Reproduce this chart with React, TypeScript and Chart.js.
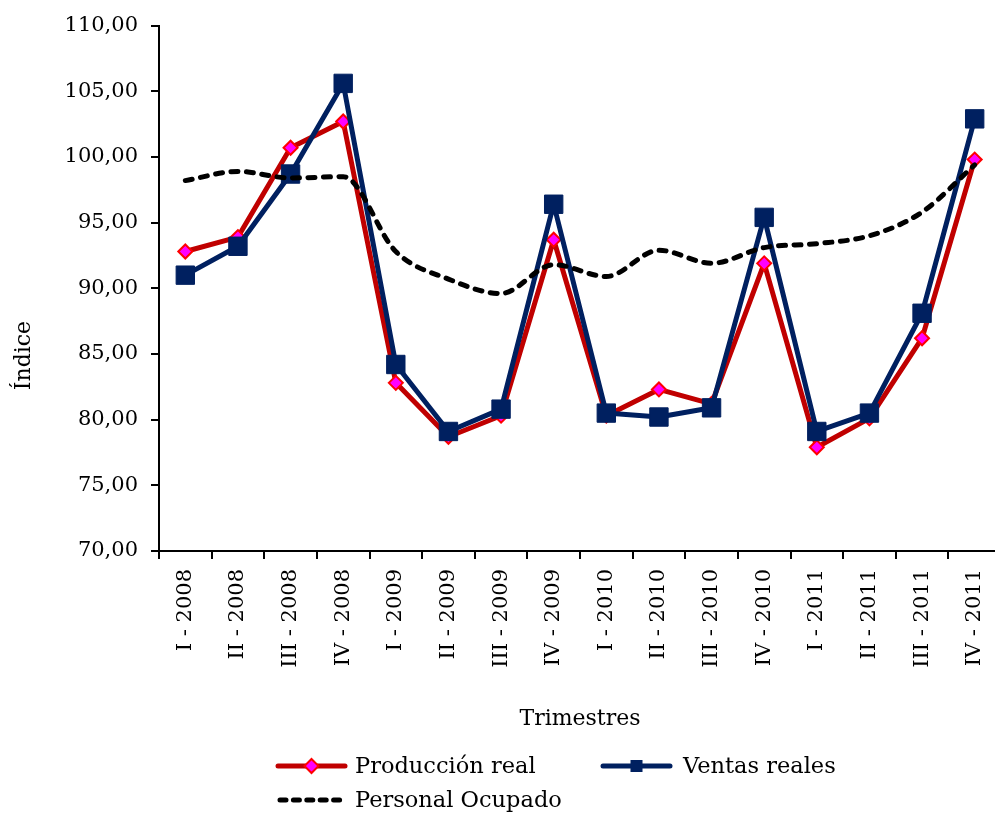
import React, { useEffect, useRef } from "react";
import { Chart, registerables } from "chart.js";

Chart.register(...registerables);

const categories = [
  "I - 2008", "II - 2008", "III - 2008", "IV - 2008",
  "I - 2009", "II - 2009", "III - 2009", "IV - 2009",
  "I - 2010", "II - 2010", "III - 2010", "IV - 2010",
  "I - 2011", "II - 2011", "III - 2011", "IV - 2011",
];

const produccionReal = [92.8, 93.9, 100.7, 102.7, 82.8, 78.7, 80.3, 93.7, 80.3, 82.3, 81.2, 91.9, 77.9, 80.1, 86.2, 99.8];
const ventasReales = [91.0, 93.2, 98.7, 105.6, 84.2, 79.1, 80.8, 96.4, 80.5, 80.2, 80.9, 95.4, 79.1, 80.5, 88.1, 102.9];
const personalOcupado = [98.2, 98.9, 98.4, 98.5, 92.8, 90.7, 89.6, 91.8, 90.9, 92.9, 91.9, 93.1, 93.4, 94.0, 95.8, 99.4];

const seriesNames = ["Producción real", "Ventas reales", "Personal Ocupado"];
const yMin = 70;
const yMax = 110;
const yStep = 5;
const xTitle = "Trimestres";
const yTitle = "Índice";

const FONT = "'DejaVu Serif', serif";
const FS = 21;
const FS_TITLE = 22;
const FS_LEGEND = 22.5;
const RED_LINE = "#C00000";
const RED_MARK = "#FF0000";
const MAGENTA = "#FF00FF";
const NAVY = "#002060";

const CANVAS_W = 1015;
const CANVAS_H = 813;

const fmt = (v: number) => v.toFixed(2).replace(".", ",");

const decorPlugin = {
  id: "decor",
  afterDraw(chart: any) {
    const ctx: CanvasRenderingContext2D = chart.ctx;
    const area = chart.chartArea;
    ctx.save();
    // Y axis title
    ctx.font = `${FS_TITLE}px ${FONT}`;
    ctx.fillStyle = "#000";
    ctx.textAlign = "center";
    ctx.textBaseline = "middle";
    ctx.translate(24, area.top + (area.bottom - area.top) * 0.628);
    ctx.rotate(-Math.PI / 2);
    ctx.fillText(yTitle, 0, 0);
    ctx.restore();

    // Legend
    ctx.save();
    ctx.font = `${FS_LEGEND}px ${FONT}`;
    ctx.textAlign = "left";
    ctx.textBaseline = "middle";
    const row1 = 766;
    const row2 = 800;
    const x1 = 278;
    const x2 = 603;
    const sw = 67;

    // Producción real
    ctx.strokeStyle = RED_LINE;
    ctx.lineWidth = 5;
    ctx.lineCap = "round";
    ctx.beginPath();
    ctx.moveTo(x1, row1);
    ctx.lineTo(x1 + sw, row1);
    ctx.stroke();
    const dx = x1 + sw / 2;
    ctx.beginPath();
    ctx.moveTo(dx, row1 - 7);
    ctx.lineTo(dx + 7, row1);
    ctx.lineTo(dx, row1 + 7);
    ctx.lineTo(dx - 7, row1);
    ctx.closePath();
    ctx.fillStyle = MAGENTA;
    ctx.fill();
    ctx.lineWidth = 2;
    ctx.strokeStyle = RED_MARK;
    ctx.stroke();
    ctx.fillStyle = "#000";
    ctx.fillText(seriesNames[0], x1 + sw + 10, row1 + 1);

    // Ventas reales
    ctx.strokeStyle = NAVY;
    ctx.lineWidth = 5;
    ctx.beginPath();
    ctx.moveTo(x2, row1);
    ctx.lineTo(x2 + sw, row1);
    ctx.stroke();
    ctx.fillStyle = NAVY;
    ctx.fillRect(x2 + sw / 2 - 6, row1 - 6, 12, 12);
    ctx.fillStyle = "#000";
    ctx.fillText(seriesNames[1], x2 + sw + 13, row1 + 1);

    // Personal Ocupado
    ctx.strokeStyle = "#000";
    ctx.lineWidth = 5;
    ctx.setLineDash([6, 7.4]);
    ctx.beginPath();
    ctx.moveTo(x1 + 2, row2);
    ctx.lineTo(x1 + sw, row2);
    ctx.stroke();
    ctx.setLineDash([]);
    ctx.fillStyle = "#000";
    ctx.fillText(seriesNames[2], x1 + sw + 10, row2 + 1);
    ctx.restore();
  },
};

export default function App() {
  const ref = useRef<HTMLCanvasElement | null>(null);

  useEffect(() => {
    if (!ref.current) return;
    const chart = new Chart(ref.current, {
      type: "line",
      data: {
        labels: categories,
        datasets: [
          {
            label: seriesNames[0],
            data: produccionReal,
            borderColor: RED_LINE,
            backgroundColor: MAGENTA,
            borderWidth: 5,
            borderJoinStyle: "round",
            pointStyle: "rectRot",
            pointRadius: 7,
            pointBackgroundColor: MAGENTA,
            pointBorderColor: RED_MARK,
            pointBorderWidth: 2,
            tension: 0,
            order: 2,
          },
          {
            label: seriesNames[1],
            data: ventasReales,
            borderColor: NAVY,
            backgroundColor: NAVY,
            borderWidth: 5,
            borderJoinStyle: "round",
            pointStyle: "rect",
            pointRadius: 13,
            pointBackgroundColor: NAVY,
            pointBorderColor: NAVY,
            pointBorderWidth: 1,
            tension: 0,
            order: 1,
          },
          {
            label: seriesNames[2],
            data: personalOcupado,
            borderColor: "#000",
            borderWidth: 5,
            borderDash: [7, 8.5],
            borderCapStyle: "round",
            pointRadius: 0,
            cubicInterpolationMode: "monotone",
            order: 0,
          },
        ],
      } as any,
      options: {
        responsive: false,
        animation: false,
        devicePixelRatio: 1,
        layout: { padding: { top: 24, right: 0, bottom: 81, left: 0 } },
        plugins: {
          legend: { display: false },
          tooltip: { enabled: false },
        },
        scales: {
          x: {
            type: "category",
            offset: true,
            grid: {
              display: true,
              drawOnChartArea: false,
              drawTicks: true,
              tickLength: 8,
              color: "#000",
              lineWidth: 2,
              offset: true,
            },
            border: { display: true, color: "#000", width: 2 },
            ticks: {
              autoSkip: false,
              minRotation: 90,
              maxRotation: 90,
              padding: 10,
              color: "#000",
              font: { family: FONT, size: FS },
            },
            title: {
              display: true,
              text: xTitle,
              color: "#000",
              font: { family: FONT, size: FS_TITLE },
              padding: { top: 0, bottom: 0 },
            },
            afterFit: (scale: any) => {
              scale.height = 181;
              scale.paddingLeft = 0;
              scale.paddingRight = 0;
            },
          },
          y: {
            type: "linear",
            min: yMin,
            max: yMax,
            grid: {
              display: true,
              drawOnChartArea: false,
              drawTicks: true,
              tickLength: 8,
              color: "#000",
              lineWidth: 2,
            },
            border: { display: true, color: "#000", width: 2 },
            ticks: {
              stepSize: yStep,
              padding: 13,
              color: "#000",
              font: { family: FONT, size: FS },
              callback: (v: any) => fmt(Number(v)),
            },
            afterFit: (scale: any) => {
              scale.width = 159;
            },
          },
        },
      } as any,
      plugins: [decorPlugin],
    });
    return () => chart.destroy();
  }, []);

  return (
    <div
      style={{
        position: "fixed",
        left: 0,
        top: 0,
        width: 995,
        height: 813,
        overflow: "hidden",
        background: "#fff",
      }}
    >
      <canvas
        ref={ref}
        width={CANVAS_W}
        height={CANVAS_H}
        style={{ width: CANVAS_W, height: CANVAS_H, display: "block" }}
      />
    </div>
  );
}
